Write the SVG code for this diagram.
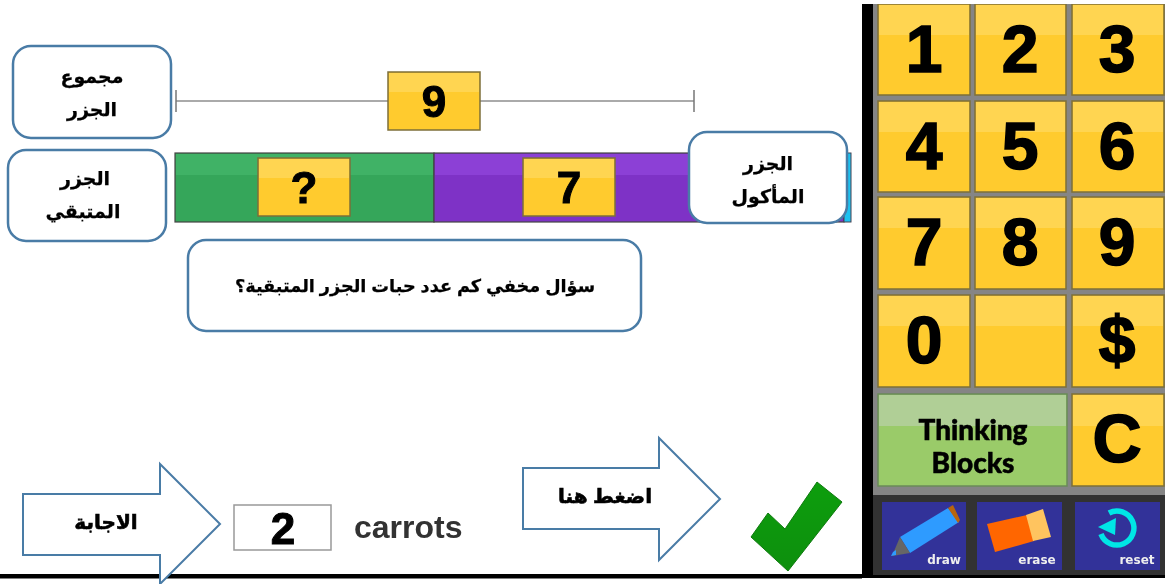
<svg xmlns="http://www.w3.org/2000/svg" width="1165" height="586" viewBox="0 0 1165 586">
<defs>
<style>
.key{fill:#ffcb2f;stroke:#7d6f3a;stroke-width:1.5}
.hi{fill:#ffd551}
.num{font-family:"Liberation Sans",Arial,sans-serif;font-weight:700;fill:#000;text-anchor:middle;stroke:#000}
.k{font-size:66px;stroke-width:1.6}
.b{font-size:44px;stroke-width:1}
.ar{font-family:"Liberation Sans","DejaVu Sans",sans-serif;font-weight:700;font-size:19px;fill:#000;text-anchor:middle;direction:rtl;stroke:#000;stroke-width:.25}
.q{font-size:17.7px}
.heavy{font-size:20px;stroke-width:.6}
.call{fill:#fff;stroke:#4a7ba6;stroke-width:2.5}
.arrow{fill:#fff;stroke:#4a7ba6;stroke-width:2}
.tool{fill:#333399}
.tl{font-family:"DejaVu Sans",sans-serif;font-weight:700;font-size:12px;fill:#eee;text-anchor:middle}
.tb{font-family:"Lato","DejaVu Sans",sans-serif;font-weight:900;font-size:28px;fill:#000;text-anchor:middle;stroke:#000;stroke-width:.5}
</style>
<filter id="soft" x="0" y="0" width="100%" height="100%"><feGaussianBlur stdDeviation="0.55"/></filter>
<linearGradient id="green" x1="0" y1="0" x2="0" y2="1"><stop offset="0" stop-color="#0c9e0c"/><stop offset="1" stop-color="#0a8f0a"/></linearGradient>
</defs>
<rect width="1165" height="586" fill="#fff"/>
<g filter="url(#soft)">
<g id="frame">
<rect x="0" y="574" width="862" height="4.5" fill="#000"/>
<rect x="862" y="4" width="11" height="574" fill="#000"/>
<rect x="873" y="4" width="292" height="491" fill="#858585"/>
<rect x="873" y="495" width="292" height="80" fill="#333"/>
<rect x="862" y="575" width="303" height="3" fill="#000"/>
</g>
<g id="connectors">
<path d="M176 101H694" stroke="#aaa" stroke-width="2" fill="none"/>
<path d="M176 90V112M694 90V112" stroke="#777" stroke-width="1.5" fill="none"/>
</g>
<g id="bar">
<rect x="175" y="153" width="259" height="69" fill="#35a65a" stroke="#444" stroke-width="1.2"/>
<rect x="176" y="154" width="257" height="21" fill="#40b266"/>
<rect x="434" y="153" width="410" height="69" fill="#7e32c6" stroke="#444" stroke-width="1.2"/>
<rect x="435" y="154" width="408" height="21" fill="#8c40d6"/>
<rect x="844" y="153" width="7" height="69" fill="#1cc2f0" stroke="#445" stroke-width="1"/>
</g>
<g id="total-9">
<rect class="key" x="388" y="72" width="92" height="58"/>
<rect class="hi" x="389" y="73" width="90" height="19"/>
<text class="num b" x="434" y="117">9</text>
</g>
<g id="block-q">
<rect class="key" x="258" y="158" width="92" height="58"/>
<rect class="hi" x="259" y="159" width="90" height="19"/>
<text class="num b" x="304" y="203">?</text>
</g>
<g id="block-7">
<rect class="key" x="523" y="158" width="92" height="58"/>
<rect class="hi" x="524" y="159" width="90" height="19"/>
<text class="num b" x="569" y="203">7</text>
</g>
<g id="label-total">
<rect class="call" x="13" y="46" width="158" height="92" rx="18"/>
<text class="ar" x="92" y="83">مجموع</text>
<text class="ar" x="92" y="116">الجزر</text>
</g>
<g id="label-remaining">
<rect class="call" x="8" y="150" width="158" height="91" rx="18"/>
<text class="ar" x="85" y="185">الجزر</text>
<text class="ar" x="83" y="218">المتبقي</text>
</g>
<g id="label-eaten">
<rect class="call" x="689" y="132" width="158" height="91" rx="18"/>
<text class="ar" x="768" y="170">الجزر</text>
<text class="ar" x="768" y="203">المأكول</text>
</g>
<g id="label-question">
<rect class="call" x="188" y="240" width="453" height="91" rx="18"/>
<text class="ar q" x="415" y="292">سؤال مخفي كم عدد حبات الجزر المتبقية؟</text>
</g>
<g id="arrow-answer">
<path class="arrow" d="M23 494H160V464L220 524L160 584V555H23Z"/>
<text class="ar heavy" x="106" y="529">الاجابة</text>
</g>
<g id="answer-box">
<rect x="234" y="505" width="97" height="45" fill="#fff" stroke="#999" stroke-width="1.5"/>
<text class="num" x="283" y="544" font-size="44" stroke-width="1">2</text>
</g>
<text id="unit" x="354" y="538" font-family="Liberation Sans,Arial,sans-serif" font-weight="700" font-size="32" fill="#333">carrots</text>
<g id="arrow-press">
<path class="arrow" d="M523 468H659V438L720 499L659 560V529H523Z"/>
<text class="ar heavy" x="605" y="503">اضغط هنا</text>
</g>
<g id="check">
<path d="M751 537L768 513L785 529L817 482L842 502L788 571Z" fill="url(#green)" stroke="#0f7a0f" stroke-width="1"/>
</g>
<g id="key-1"><rect class="key" x="878" y="4" width="92" height="91"/><rect class="hi" x="879" y="5" width="90" height="30"/><text class="num k" x="924" y="72">1</text></g>
<g id="key-2"><rect class="key" x="975" y="4" width="91" height="91"/><rect class="hi" x="976" y="5" width="89" height="30"/><text class="num k" x="1020" y="72">2</text></g>
<g id="key-3"><rect class="key" x="1072" y="4" width="92" height="91"/><rect class="hi" x="1073" y="5" width="90" height="30"/><text class="num k" x="1117" y="72">3</text></g>
<g id="key-4"><rect class="key" x="878" y="101" width="92" height="91"/><rect class="hi" x="879" y="102" width="90" height="30"/><text class="num k" x="924" y="169">4</text></g>
<g id="key-5"><rect class="key" x="975" y="101" width="91" height="91"/><rect class="hi" x="976" y="102" width="89" height="30"/><text class="num k" x="1020" y="169">5</text></g>
<g id="key-6"><rect class="key" x="1072" y="101" width="92" height="91"/><rect class="hi" x="1073" y="102" width="90" height="30"/><text class="num k" x="1117" y="169">6</text></g>
<g id="key-7"><rect class="key" x="878" y="197" width="92" height="92"/><rect class="hi" x="879" y="198" width="90" height="30"/><text class="num k" x="924" y="265">7</text></g>
<g id="key-8"><rect class="key" x="975" y="197" width="91" height="92"/><rect class="hi" x="976" y="198" width="89" height="30"/><text class="num k" x="1020" y="265">8</text></g>
<g id="key-9"><rect class="key" x="1072" y="197" width="92" height="92"/><rect class="hi" x="1073" y="198" width="90" height="30"/><text class="num k" x="1117" y="265">9</text></g>
<g id="key-0"><rect class="key" x="878" y="295" width="92" height="92"/><rect class="hi" x="879" y="296" width="90" height="30"/><text class="num k" x="924" y="363">0</text></g>
<g id="key-blank"><rect class="key" x="975" y="295" width="91" height="92"/><rect class="hi" x="976" y="296" width="89" height="30"/></g>
<g id="key-dollar"><rect class="key" x="1072" y="295" width="92" height="92"/><rect class="hi" x="1073" y="296" width="90" height="30"/><text class="num k" x="1117" y="363">$</text></g>
<g id="key-thinking">
<rect x="878" y="394" width="189" height="92" fill="#9acb69" stroke="#6a8a5a" stroke-width="1.5"/>
<rect x="879" y="395" width="187" height="31" fill="#b0cf96"/>
<text class="tb" x="973" y="440">Thinking</text>
<text class="tb" x="973" y="473">Blocks</text>
</g>
<g id="key-c"><rect class="key" x="1072" y="394" width="92" height="92"/><rect class="hi" x="1073" y="395" width="90" height="31"/><text class="num" x="1117" y="462" font-size="68" stroke-width="1.6">C</text></g>
<g id="tool-draw">
<rect class="tool" x="882" y="502" width="84" height="68"/>
<path d="M900 537L948 508L959 522L910 553Z" fill="#2e9bff"/>
<path d="M948 508L953 505L960 520L958 523Z" fill="#b8650f"/>
<path d="M900 537L910 553L892 556Z" fill="#666"/>
<path d="M893 552L896 550L896 555L891 556Z" fill="#2e9bff"/>
<text class="tl" x="944" y="564">draw</text>
</g>
<g id="tool-erase">
<rect class="tool" x="977" y="502" width="85" height="68"/>
<path d="M987 524L1027 515L1034 541L995 552Z" fill="#ff6600"/>
<path d="M1026 515L1043 509L1051 537L1033 541Z" fill="#ffc45e"/>
<text class="tl" x="1037" y="564">erase</text>
</g>
<g id="tool-reset">
<rect class="tool" x="1075" y="502" width="85" height="68"/>
<path d="M1109 513A17 17 0 1 1 1101 534" fill="none" stroke="#00e6e6" stroke-width="5.5"/>
<path d="M1098 527L1116 518L1115 535Z" fill="#00e6e6"/>
<text class="tl" x="1137" y="564">reset</text>
</g>
</g>
</svg>
